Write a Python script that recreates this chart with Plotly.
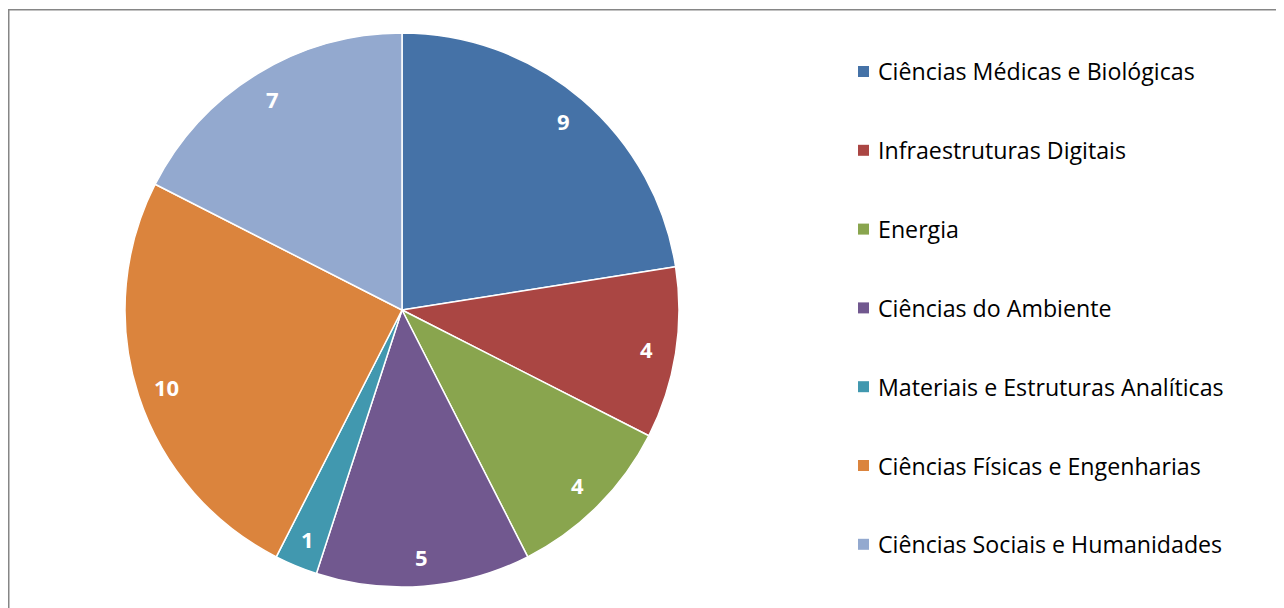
import math
import plotly.graph_objects as go

labels = ["Ciências Médicas e Biológicas", "Infraestruturas Digitais", "Energia",
          "Ciências do Ambiente", "Materiais e Estruturas Analíticas",
          "Ciências Físicas e Engenharias", "Ciências Sociais e Humanidades"]
values = [9, 4, 4, 5, 1, 10, 7]
colors = ["#4572A7", "#AA4643", "#89A54E", "#71588F", "#4198AF", "#DB843D", "#93A9CF"]

W, H = 1284, 608
OFF = 8  # page body margin offset
cx, cy, r = 402 - OFF, 310 - OFF, 277

fig = go.Figure(go.Pie(
    labels=labels, values=values, sort=False, direction="clockwise", rotation=0,
    marker=dict(colors=colors, line=dict(color="white", width=1.5)),
    textinfo="none", showlegend=False, hoverinfo="label+value",
    domain=dict(x=[(cx - r) / W, (cx + r) / W], y=[(H - cy - r) / H, (H - cy + r) / H]),
))

annotations = []
# data labels near the outer edge along each slice's mid-angle
total = sum(values)
cum = 0
for v in values:
    ang = (cum + v / 2) / total * 2 * math.pi
    cum += v
    px = cx + 0.895 * r * math.sin(ang)
    py = cy - 0.895 * r * math.cos(ang)
    annotations.append(dict(text=str(v), xref="paper", yref="paper", x=px / W, y=1 - py / H,
                            xanchor="center", yanchor="middle", showarrow=False,
                            font=dict(family="Open Sans", size=22, color="white", weight="bold")))

# legend drawn as text + square markers
leg_y0, leg_dy = 71.5 - OFF, 78.8
shapes = [dict(type="rect", xref="paper", yref="paper", x0=(8 - OFF + 0.75) / W, x1=1.02, y0=-0.02,
               y1=1 - (9 - OFF + 0.75) / H,
               line=dict(color="#868686", width=1.5), fillcolor="rgba(0,0,0,0)", layer="below")]
for i, (lab, col) in enumerate(zip(labels, colors)):
    yc = leg_y0 + i * leg_dy
    shapes.append(dict(type="rect", xref="paper", yref="paper",
                       x0=(858 - OFF) / W, x1=(869 - OFF) / W, y0=1 - (yc + 5.5) / H, y1=1 - (yc - 5.5) / H,
                       line=dict(width=0), fillcolor=col))
    annotations.append(dict(text=lab, xref="paper", yref="paper", x=(876 - OFF) / W, y=1 - yc / H,
                            xanchor="left", yanchor="middle", showarrow=False,
                            font=dict(family="Open Sans", size=23.2, color="black")))

fig.update_layout(width=W, height=H, margin=dict(l=0, r=0, t=0, b=0),
                  paper_bgcolor="white", plot_bgcolor="white",
                  shapes=shapes, annotations=annotations)
fig.write_html("out.html")
